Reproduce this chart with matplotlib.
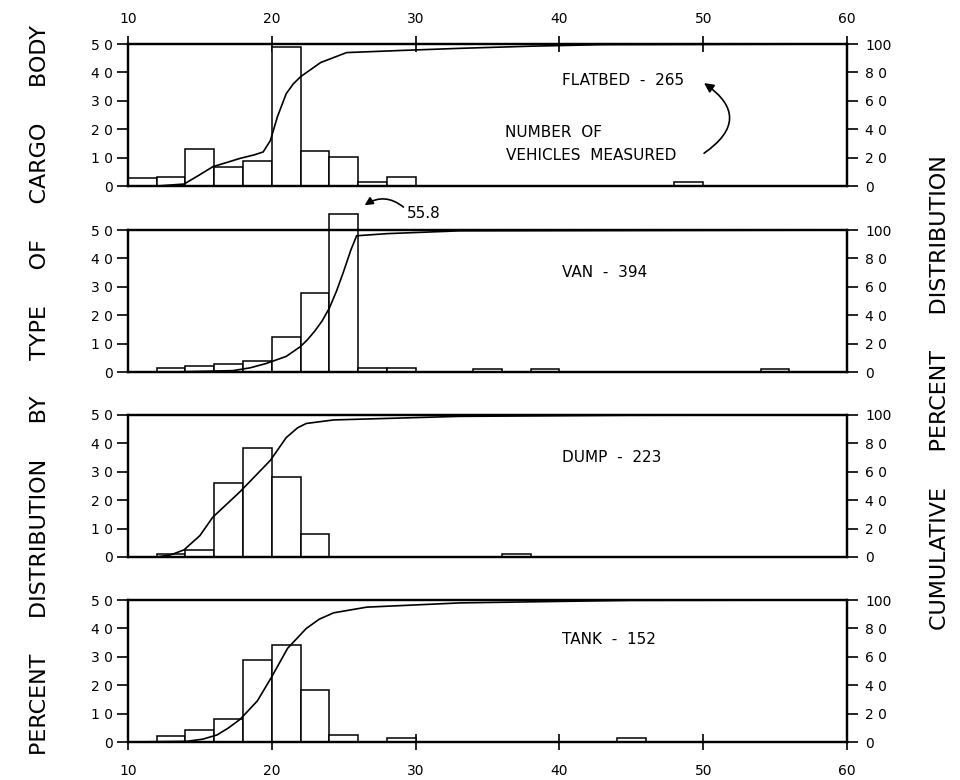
import numpy as np
import matplotlib
matplotlib.use('Agg')
import matplotlib.pyplot as plt

# Bin left edges (width 2) and percent of vehicles in each bin, per body type
flatbed_bins = [10, 12, 14, 16, 18, 20, 22, 24, 26, 28, 48]
flatbed_pct = [2.7, 3.3, 12.9, 6.8, 8.9, 48.9, 12.4, 10.1, 1.5, 3.3, 1.5]
van_bins = [12, 14, 16, 18, 20, 22, 24, 26, 28, 34, 38, 54]
van_pct = [1.6, 2.2, 2.8, 3.8, 12.2, 27.9, 55.8, 1.6, 1.3, 1.0, 1.0, 1.0]
dump_bins = [12, 14, 16, 18, 20, 22, 36]
dump_pct = [1.2, 2.6, 26.1, 38.2, 28.0, 7.9, 1.2]
tank_bins = [12, 14, 16, 18, 20, 22, 24, 28, 44]
tank_pct = [2.0, 4.2, 8.2, 28.9, 34.0, 18.4, 2.6, 1.4, 1.5]

# Cumulative percent curves
flatbed_cx = [12, 13.9, 15.0, 15.9, 17.0, 17.8, 18.8, 19.4, 19.9, 20.4, 21.0, 21.5,
              22.0, 23.4, 25.2, 29.0, 33.1, 38.0, 43.0, 60.0]
flatbed_cy = [0, 1.4, 8.0, 13.6, 17.0, 19.5, 22.0, 24.0, 32.0, 49.0, 65.0, 72.0,
              77.0, 87.0, 94.0, 95.5, 97.0, 98.5, 99.6, 100]
van_cx = [12.7, 17.3, 18.5, 19.6, 21.0, 22.0, 22.5, 23.0, 23.5, 24.0, 24.5, 25.0,
          25.5, 25.9, 28.0, 33.1, 60.0]
van_cy = [0, 1.0, 3.0, 6.0, 11.0, 18.0, 23.0, 29.0, 36.0, 45.0, 57.0, 71.0,
          86.0, 96.0, 97.5, 99.5, 100]
dump_cx = [12.0, 13.0, 13.9, 15.0, 15.9, 17.8, 19.9, 21.0, 21.8, 22.4, 24.3, 33.0,
           45.0, 60.0]
dump_cy = [0, 1.5, 5.0, 15.0, 28.0, 46.0, 68.0, 84.0, 91.0, 94.0, 96.5, 99.0,
           99.8, 100]
tank_cx = [10.0, 14.1, 15.2, 16.2, 17.0, 17.8, 19.0, 20.0, 21.1, 22.4, 23.3, 24.3,
           26.6, 33.1, 45.0, 60.0]
tank_cy = [0, 0.5, 2.0, 5.0, 10.0, 16.0, 29.0, 46.0, 66.0, 80.0, 86.5, 91.0,
           95.0, 98.0, 99.8, 100]

labels = ['FLATBED  -  265', 'VAN  -  394', 'DUMP  -  223', 'TANK  -  152']
label_y = [37, 35, 35, 36]

panels = [
    (flatbed_bins, flatbed_pct, flatbed_cx, flatbed_cy),
    (van_bins, van_pct, van_cx, van_cy),
    (dump_bins, dump_pct, dump_cx, dump_cy),
    (tank_bins, tank_pct, tank_cx, tank_cy),
]

plt.rcParams['font.family'] = 'DejaVu Sans'
fig = plt.figure(figsize=(9.6, 7.8), dpi=100)

left, width, height = 0.1333, 0.749, 0.182
bottoms = [0.7615, 0.523, 0.286, 0.0487]

for i, (bins, pct, cx, cy) in enumerate(panels):
    ax = fig.add_axes([left, bottoms[i], width, height])
    ax.bar(bins, pct, width=2, align='edge', facecolor='white',
           edgecolor='black', linewidth=1.1, clip_on=False, zorder=2)
    ax.set_xlim(10, 60)
    ax.set_ylim(0, 50)
    for s in ax.spines.values():
        s.set_linewidth(1.6)
    ax.set_yticks([0, 10, 20, 30, 40, 50])
    ax.set_yticklabels(['0', '1 0', '2 0', '3 0', '4 0', '5 0'])
    ax.tick_params(axis='y', direction='out', length=8, width=1.2,
                   labelsize=10, pad=3)
    ax.set_xticks([10, 20, 30, 40, 50, 60])
    if i == 0:
        ax.tick_params(axis='x', bottom=False, labelbottom=False, top=True,
                       labeltop=True, direction='inout', length=12, width=1.2,
                       labelsize=10, pad=7)
    elif i == 3:
        ax.tick_params(axis='x', direction='inout', length=12, width=1.2,
                       labelsize=10, pad=10)
    else:
        ax.tick_params(axis='x', bottom=False, labelbottom=False)

    ax2 = ax.twinx()
    ax2.plot(cx, cy, color='black', linewidth=1.2, zorder=3)
    ax2.set_ylim(0, 100)
    ax2.set_xlim(10, 60)
    for s in ax2.spines.values():
        s.set_linewidth(1.6)
    ax2.set_yticks([0, 20, 40, 60, 80, 100])
    ax2.set_yticklabels(['0', '2 0', '4 0', '6 0', '8 0', '100'])
    ax2.tick_params(axis='y', direction='out', length=8, width=1.2,
                    labelsize=10, pad=5)

    ax.text(40.2, label_y[i], labels[i], fontsize=11, ha='left', va='center',
            zorder=5)

    if i == 0:
        ax.text(36.2, 19, 'NUMBER  OF', fontsize=11, ha='left', va='center')
        ax.text(36.3, 10.9, 'VEHICLES  MEASURED', fontsize=11, ha='left',
                va='center')
        ax.annotate('', xy=(49.9, 36.8), xytext=(49.9, 11),
                    arrowprops=dict(arrowstyle='-|>', color='black', lw=1.2,
                                    connectionstyle='arc3,rad=0.75',
                                    mutation_scale=14))
    if i == 1:
        ax.text(29.4, 56, '55.8', fontsize=11, ha='left', va='center',
                clip_on=False)
        ax.annotate('', xy=(26.3, 58.2), xytext=(29.3, 57.5),
                    arrowprops=dict(arrowstyle='-|>', color='black', lw=1.2,
                                    connectionstyle='arc3,rad=0.4',
                                    mutation_scale=12),
                    annotation_clip=False)

fig.text(0.042, 0.5,
         'PERCENT     DISTRIBUTION     BY     TYPE     OF     CARGO     BODY',
         rotation=90, ha='center', va='center', fontsize=16)
fig.text(0.979, 0.496, 'CUMULATIVE     PERCENT     DISTRIBUTION',
         rotation=90, ha='center', va='center', fontsize=16)

fig.savefig('out.png', dpi=100)
